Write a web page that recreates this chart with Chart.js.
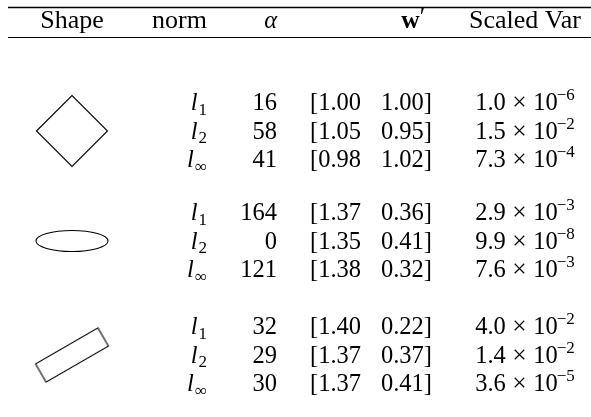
<!DOCTYPE html>
<html>
<head>
<meta charset="utf-8">
<script src="https://cdn.jsdelivr.net/npm/chart.js@4.4.0/dist/chart.umd.min.js"></script>
<style>
  html, body { margin: 0; padding: 0; background: #fff; }
  #wrap { width: 591px; height: 417px; }
</style>
</head>
<body>
<div id="wrap"><canvas id="norm_table"></canvas></div>
<script>
const headers = ['Shape', 'norm', 'α', 'w', 'Scaled Var'];
const shapes = ['diamond', 'ellipse', 'rectangle'];
const norms = ['1', '2', '∞'];
const alphas = [[16, 58, 41], [164, 0, 121], [32, 29, 30]];
const wFirst = [[1.00, 1.05, 0.98], [1.37, 1.35, 1.38], [1.40, 1.37, 1.37]];
const wSecond = [[1.00, 0.95, 1.02], [0.36, 0.41, 0.32], [0.22, 0.37, 0.41]];
const varMantissa = [[1.0, 1.5, 7.3], [2.9, 9.9, 7.6], [4.0, 1.4, 3.6]];
const varExponent = [[-6, -2, -4], [-3, -8, -3], [-2, -2, -5]];

// layout, in pixels
const W = 591, H = 417;
const headBase = 28;
const groupBase = [110, 220, 334];
const rowStep = 28.5;
const col = { shape: 72, norm: 207, alpha: 277, wL: 310, wR: 432, wHead: 425, sv: 525 };
const fs = 24.5, wordFs = 26, subFs = 17;
const serif = '"Liberation Serif", "Times New Roman", serif';

const cells = [];
shapes.forEach((s, g) => norms.forEach((n, r) => cells.push({ g, r })));
const at = (x, c) => ({ x: x, y: groupBase[c.g] + c.r * rowStep });

function makeShape(w, h, draw) {
  const c = document.createElement('canvas');
  c.width = w; c.height = h;
  const g = c.getContext('2d');
  g.strokeStyle = '#000';
  g.lineWidth = 1.1;
  draw(g, w, h);
  return c;
}
const ellipseImg = makeShape(78, 26, (g, w, h) => {
  g.beginPath(); g.ellipse(w / 2, h / 2, 36, 10.5, 0, 0, Math.PI * 2); g.stroke();
});
const rectImg = makeShape(78, 26, (g, w, h) => {
  g.strokeRect(w / 2 - 36, h / 2 - 10.5, 72, 21);
});

function font(size, style) { return (style ? style + ' ' : '') + size + 'px ' + serif; }

function drawNorm(ctx, x, y, sub) {
  ctx.textAlign = 'left';
  ctx.font = font(fs, 'italic');
  const lw = ctx.measureText('l').width;
  ctx.font = font(subFs);
  const sw = ctx.measureText(sub).width;
  const x0 = x - lw - sw - 1;
  ctx.font = font(fs, 'italic');
  ctx.fillText('l', x0, y);
  ctx.font = font(subFs);
  ctx.fillText(sub, x0 + lw + 1, y + 4.5);
}

function drawSci(ctx, x, y, m, e) {
  ctx.textAlign = 'left';
  const mt = m.toFixed(1), et = '−' + Math.abs(e);
  ctx.font = font(fs);
  const mw = ctx.measureText(mt).width;
  const tw = ctx.measureText('10').width;
  ctx.font = font(fs + 1);
  const xw = ctx.measureText('×').width;
  ctx.font = font(subFs);
  const ew = ctx.measureText(et).width;
  const gap = 6.5;
  const total = mw + gap + xw + gap + tw + ew - 1;
  let cx = x - total / 2;
  ctx.font = font(fs);
  ctx.fillText(mt, cx, y); cx += mw + gap;
  ctx.font = font(fs + 1);
  ctx.fillText('×', cx, y); cx += xw + gap;
  ctx.font = font(fs);
  ctx.fillText('10', cx, y); cx += tw - 1;
  ctx.font = font(subFs);
  ctx.fillText(et, cx, y - 10);
}

const tableText = {
  id: 'tableText',
  afterDatasetsDraw(chart) {
    const ctx = chart.ctx;
    ctx.save();
    ctx.fillStyle = '#000';
    ctx.textBaseline = 'alphabetic';
    chart.data.datasets.forEach((ds, i) => {
      if (!ds.texts) return;
      const meta = chart.getDatasetMeta(i);
      meta.data.forEach((pt, j) => {
        const t = ds.texts[j];
        if (ds.kind === 'norm') return drawNorm(ctx, pt.x, pt.y, t);
        if (ds.kind === 'sci') return drawSci(ctx, pt.x, pt.y, t[0], t[1]);
        if (ds.kind === 'boldprime') {
          ctx.textAlign = 'left';
          ctx.font = font(fs + 1, 'bold');
          const bw = ctx.measureText(t).width;
          ctx.font = font(fs);
          const pw = ctx.measureText('′').width;
          ctx.font = font(fs + 1, 'bold');
          ctx.fillText(t, pt.x - bw - pw, pt.y);
          ctx.font = font(fs);
          ctx.fillText('′', pt.x - pw, pt.y - 3);
          return;
        }
        ctx.font = font(ds.size || fs, ds.fontStyle);
        ctx.textAlign = ds.align;
        ctx.fillText(t, pt.x, pt.y);
      });
    });
    ctx.restore();
  }
};

const textSet = (kind, align, data, texts, fontStyle, size) =>
  ({ kind, align, data, texts, fontStyle, size, pointRadius: 0, showLine: false });

const rule = (y, width) => ({
  data: [{ x: 8, y: y }, { x: W, y: y }],
  showLine: true, pointRadius: 0, borderColor: '#000', borderWidth: width
});

new Chart(document.getElementById('norm_table'), {
  type: 'scatter',
  data: {
    datasets: [
      rule(7.5, 1.6),
      rule(37.5, 1.1),
      {
        data: shapes.map((s, g) => ({ x: col.shape, y: groupBase[g] + rowStep - 7.5 })),
        pointStyle: ['rectRot', ellipseImg, rectImg],
        pointRadius: 35.5,
        rotation: [0, 0, -30],
        backgroundColor: 'rgba(0,0,0,0)',
        borderColor: '#000',
        borderWidth: 1.1
      },
      textSet('plain', 'center', [{ x: col.shape, y: headBase }], [headers[0]], '', wordFs),
      textSet('plain', 'right', [{ x: col.norm, y: headBase }], [headers[1]], '', wordFs),
      textSet('plain', 'right', [{ x: col.alpha, y: headBase }], [headers[2]], 'italic'),
      textSet('boldprime', 'right', [{ x: col.wHead, y: headBase }], [headers[3]]),
      textSet('plain', 'center', [{ x: col.sv, y: headBase }], [headers[4]], '', wordFs),
      textSet('norm', 'right', cells.map(c => at(col.norm, c)), cells.map(c => norms[c.r])),
      textSet('plain', 'right', cells.map(c => at(col.alpha, c)), cells.map(c => String(alphas[c.g][c.r]))),
      textSet('plain', 'left', cells.map(c => at(col.wL, c)), cells.map(c => '[' + wFirst[c.g][c.r].toFixed(2))),
      textSet('plain', 'right', cells.map(c => at(col.wR, c)), cells.map(c => wSecond[c.g][c.r].toFixed(2) + ']')),
      textSet('sci', 'center', cells.map(c => at(col.sv, c)), cells.map(c => [varMantissa[c.g][c.r], varExponent[c.g][c.r]]))
    ]
  },
  options: {
    responsive: true,
    maintainAspectRatio: false,
    animation: false,
    events: [],
    layout: { padding: 0, autoPadding: false },
    scales: {
      x: { type: 'linear', min: 0, max: W, display: false },
      y: { type: 'linear', min: 0, max: H, reverse: true, display: false }
    },
    plugins: {
      legend: { display: false },
      tooltip: { enabled: false }
    }
  },
  plugins: [tableText]
});
</script>
</body>
</html>
